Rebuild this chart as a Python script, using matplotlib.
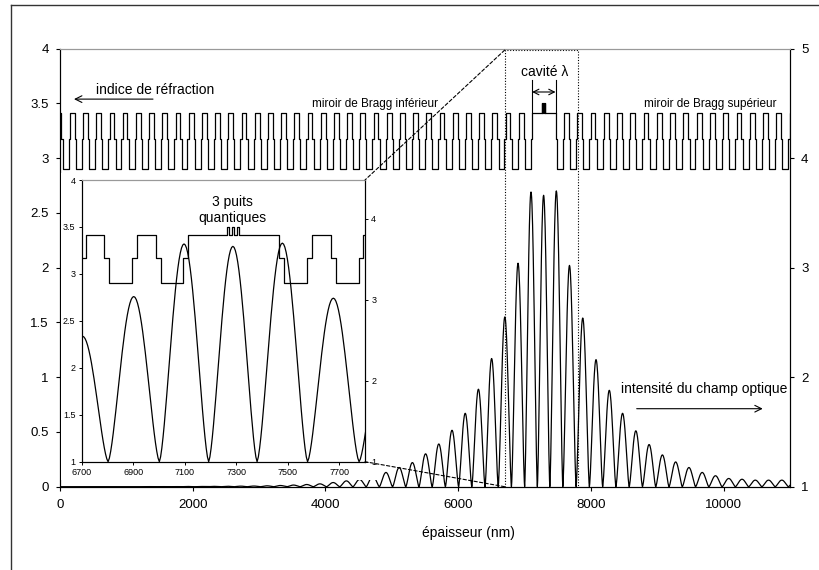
import numpy as np
import matplotlib
matplotlib.use("Agg")
import matplotlib.pyplot as plt
from matplotlib.patches import Rectangle, ConnectionPatch
from matplotlib.lines import Line2D

plt.rcParams['font.family'] = ['Liberation Sans', 'DejaVu Sans']

# ---------------- data ----------------
# refractive index structure (left axis)
period_n_bottom = [3.41, 3.17, 2.90, 3.17]      # Bragg period, lower mirror
period_d_bottom = [72, 19, 89, 19]              # nm
n_periods_bottom = 36
bottom_start = -50
cavity_start, cavity_end = 7114, 7467
cavity_n = 3.41
qw_centers = [7267, 7287, 7306]
qw_width = 7
qw_n = 3.50
period_n_top = [3.17, 2.90, 3.17, 3.41]         # Bragg period, upper mirror
period_d_top = [19, 89, 19, 73]
n_periods_top = 18

# optical field intensity (right axis): peak positions (nm) and peak heights
bottom_peak_x = [-63, 136, 335, 534, 733, 932, 1131, 1330, 1529, 1728, 1927,
                 2126, 2325, 2524, 2723, 2922, 3121, 3320, 3519, 3718, 3917,
                 4116, 4315, 4514, 4713, 4912, 5111, 5310, 5509, 5708, 5907,
                 6106, 6305, 6504, 6703, 6902, 7101]
bottom_peak_h = [1.0001, 1.0002, 1.0002, 1.0003, 1.0003, 1.0005, 1.0005,
                 1.001, 1.001, 1.001, 1.002, 1.002, 1.003, 1.004, 1.005, 1.006,
                 1.008, 1.011, 1.015, 1.020, 1.026, 1.038, 1.053, 1.066, 1.096,
                 1.13, 1.175, 1.22, 1.30, 1.39, 1.515, 1.67, 1.89, 2.17, 2.55,
                 3.04, 3.69]
center_peak_x = [7285]
center_peak_h = [3.66]
top_peak_x = [7477, 7677, 7877, 8077, 8277, 8477, 8677, 8877, 9077, 9277,
              9477, 9677, 9877, 10077, 10277, 10477, 10677, 10877, 11077]
top_peak_h = [3.70, 3.02, 2.54, 2.16, 1.88, 1.67, 1.51, 1.385, 1.29, 1.226,
              1.175, 1.13, 1.10, 1.075, 1.068, 1.06, 1.06, 1.06, 1.06]

x_ticks_main = [0, 2000, 4000, 6000, 8000, 10000]
x_ticks_inset = [6700, 6900, 7100, 7300, 7500, 7700]

# ---------------- build curves ----------------
def index_profile():
    xs, ns = [], []
    x = bottom_start
    for _ in range(n_periods_bottom):
        for n, d in zip(period_n_bottom, period_d_bottom):
            xs.append(x); ns.append(n); x += d
    xs.append(cavity_start); ns.append(cavity_n)
    for c in qw_centers:
        xs += [c - qw_width / 2, c + qw_width / 2]
        ns += [qw_n, cavity_n]
    x = cavity_end
    for _ in range(n_periods_top):
        for n, d in zip(period_n_top, period_d_top):
            xs.append(x); ns.append(n); x += d
    xs.append(x); ns.append(ns[-1])
    return np.array(xs, float), np.array(ns, float)


def intensity_curve():
    px = np.array(bottom_peak_x + center_peak_x + top_peak_x, float)
    ph = np.array(bottom_peak_h + center_peak_h + top_peak_h, float)
    mids = (px[1:] + px[:-1]) / 2
    edges = np.concatenate([[px[0] - (mids[0] - px[0])], mids,
                            [px[-1] + (px[-1] - mids[-1])]])
    xs, ys = [], []
    t = np.linspace(0, 1, 41)
    for i in range(len(px)):
        m0, m1 = edges[i], edges[i + 1]
        xs.append(m0 + t * (m1 - m0))
        ys.append(1 + (ph[i] - 1) * np.abs(np.sin(np.pi * t)) ** 1.5)
    return np.concatenate(xs), np.concatenate(ys)


ix, iv = index_profile()
fx, fv = intensity_curve()

# ---------------- figure ----------------
W, H = 819, 570
fig = plt.figure(figsize=(W / 100, H / 100), dpi=100)


def fbox(l, t, r, b):
    return [l / W, 1 - b / H, (r - l) / W, (b - t) / H]


# outer frame (partially cropped)
fig.add_artist(Line2D([11 / W, 11 / W], [0, 1 - 5 / H], transform=fig.transFigure,
                      color='#333333', lw=1.0))
fig.add_artist(Line2D([11 / W, 1], [1 - 5 / H, 1 - 5 / H], transform=fig.transFigure,
                      color='#333333', lw=1.0))

ax = fig.add_axes(fbox(60, 48.5, 790, 486.7))
ax2 = ax.twinx()

LW = 0.9
ax.plot(ix, iv, drawstyle='steps-post', color='black', lw=LW)
ax2.plot(fx, fv, color='black', lw=LW)

ax.set_xlim(0, 11000)
ax.set_ylim(0, 4)
ax2.set_ylim(1, 5)
ax.set_xticks(x_ticks_main)
ax.set_xticklabels([str(v) for v in x_ticks_main])
yt = np.arange(0, 4.01, 0.5)
ax.set_yticks(yt)
ax.set_yticklabels(['%g' % v for v in yt])
ax2.set_yticks([1, 2, 3, 4, 5])
ax2.set_yticklabels(['1', '2', '3', '4', '5'])

for a in (ax, ax2):
    for s in a.spines.values():
        s.set_linewidth(0.8)
    a.spines['top'].set_color('#999999')
ax.tick_params(axis='both', direction='out', length=3, width=0.8, labelsize=9.5)
ax.tick_params(axis='x', pad=6)
ax.tick_params(axis='y', pad=5)
ax2.tick_params(axis='y', direction='out', length=3, width=0.8, labelsize=9.5, pad=5)

ax.set_xlabel('épaisseur (nm)', fontsize=10)
ax.xaxis.set_label_coords((468 - 60) / 730, (486.7 - 526) / 438.2)

# annotations in main chart
ax.text(542, 3.62, 'indice de réfraction', fontsize=10, ha='left', va='center')
ax.annotate('', xy=(211, 3.538), xytext=(1401, 3.538),
            arrowprops=dict(arrowstyle='->', lw=0.8, color='black',
                            shrinkA=0, shrinkB=0, mutation_scale=12))
ax.text(4747, 3.466, 'miroir de Bragg inférieur', fontsize=8.5,
        ha='center', va='baseline')
ax.text(9802, 3.466, 'miroir de Bragg supérieur', fontsize=8.5,
        ha='center', va='baseline')
ax.text(7308, 3.785, 'cavité λ', fontsize=10, ha='center', va='center')
for cx in (cavity_start, cavity_end):
    ax.plot([cx, cx], [cavity_n, 3.712], color='black', lw=0.8)
ax.annotate('', xy=(cavity_start, 3.603), xytext=(cavity_end, 3.603),
            arrowprops=dict(arrowstyle='<->', lw=0.8, color='black',
                            shrinkA=0, shrinkB=0, mutation_scale=10))
ax2.text(9704, 1.889, 'intensité du champ optique', fontsize=10,
         ha='center', va='center')
ax2.annotate('', xy=(10589, 1.712), xytext=(8690, 1.712),
             arrowprops=dict(arrowstyle='->', lw=0.8, color='black',
                             shrinkA=0, shrinkB=0, mutation_scale=12))

# dotted zoom rectangle
ax.plot([x_ticks_inset[0], x_ticks_inset[0], 7800, 7800], [0, 3.985, 3.985, 0],
        color='black', lw=0.8, ls=(0, (1, 1.5)), clip_on=False)

# white background of the inset
fig.add_artist(Rectangle((61 / W, 1 - 480 / H), (377 - 61) / W, (480 - 173) / H,
                         transform=fig.transFigure, facecolor='white',
                         edgecolor='none', zorder=2))

axin = fig.add_axes(fbox(81.7, 180, 365, 461.7), zorder=3)
axin2 = axin.twinx()
axin2.set_zorder(4)
axin2.patch.set_visible(False)

axin.plot(ix, iv, drawstyle='steps-post', color='black', lw=LW)
axin2.plot(fx, fv, color='black', lw=LW)
axin.set_xlim(6700, 7800)
axin.set_ylim(1, 4)
axin2.set_ylim(1, 4.48)
axin.set_xticks(x_ticks_inset)
axin.set_xticklabels([str(v) for v in x_ticks_inset])
yti = np.arange(1, 4.01, 0.5)
axin.set_yticks(yti)
axin.set_yticklabels(['%g' % v for v in yti])
axin2.set_yticks([1, 2, 3, 4])
axin2.set_yticklabels(['1', '2', '3', '4'])
for a in (axin, axin2):
    for s in a.spines.values():
        s.set_linewidth(0.8)
    a.spines['top'].set_color('#999999')
axin.tick_params(axis='both', direction='out', length=2, width=0.7, labelsize=6.5, pad=2.5)
axin2.tick_params(axis='y', direction='out', length=2, width=0.7, labelsize=6.5, pad=2.5)
axin.text(7286, 3.68, '3 puits\nquantiques', fontsize=10, ha='center',
          va='center', linespacing=1.1)

# connector lines
for ya, yb in ((3.985, 1), (0, 0)):
    cp = ConnectionPatch(xyA=(6700, ya), coordsA=ax.transData,
                         xyB=(1, yb), coordsB=axin.transAxes,
                         color='black', lw=0.8, ls=(0, (3, 2)))
    cp.set_zorder(5)
    fig.add_artist(cp)

fig.savefig('out.png', dpi=100)
